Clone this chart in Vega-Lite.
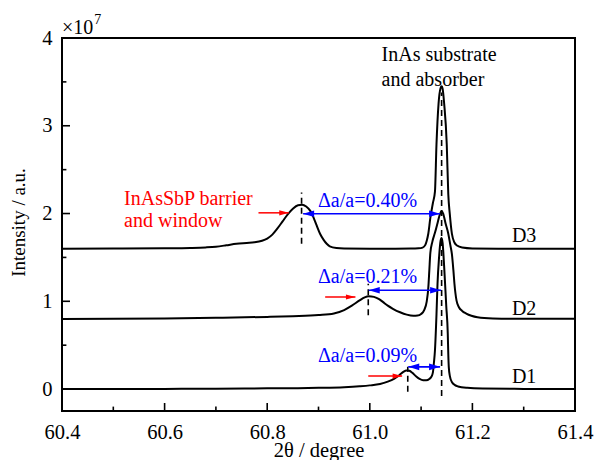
{
  "$schema": "https://vega.github.io/schema/vega-lite/v6.json",
  "width": 513,
  "height": 373,
  "autosize": "none",
  "padding": {"left": 62, "top": 38, "right": 20, "bottom": 49},
  "config": {
    "font": "Liberation Serif",
    "view": {"stroke": "black", "strokeWidth": 2},
    "axis": {"grid": false, "domain": false, "ticks": false, "labelColor": "black", "labelFontSize": 20.5, "titleColor": "black", "titleFontSize": 20.5, "titleFontWeight": "normal", "labelFont": "Liberation Serif", "titleFont": "Liberation Serif"}
  },
  "datasets": {
    "curves": [
      {"sample": "D1", "two_theta": 60.40, "intensity": 0.000},
      {"sample": "D1", "two_theta": 60.50, "intensity": 0.000},
      {"sample": "D1", "two_theta": 60.60, "intensity": 0.002},
      {"sample": "D1", "two_theta": 60.70, "intensity": 0.004},
      {"sample": "D1", "two_theta": 60.80, "intensity": 0.008},
      {"sample": "D1", "two_theta": 60.86, "intensity": 0.010},
      {"sample": "D1", "two_theta": 60.90, "intensity": 0.014},
      {"sample": "D1", "two_theta": 60.95, "intensity": 0.022},
      {"sample": "D1", "two_theta": 60.98, "intensity": 0.032},
      {"sample": "D1", "two_theta": 61.00, "intensity": 0.042},
      {"sample": "D1", "two_theta": 61.02, "intensity": 0.058},
      {"sample": "D1", "two_theta": 61.035, "intensity": 0.085},
      {"sample": "D1", "two_theta": 61.048, "intensity": 0.120},
      {"sample": "D1", "two_theta": 61.058, "intensity": 0.160},
      {"sample": "D1", "two_theta": 61.066, "intensity": 0.198},
      {"sample": "D1", "two_theta": 61.071, "intensity": 0.212},
      {"sample": "D1", "two_theta": 61.077, "intensity": 0.208},
      {"sample": "D1", "two_theta": 61.083, "intensity": 0.185},
      {"sample": "D1", "two_theta": 61.090, "intensity": 0.145},
      {"sample": "D1", "two_theta": 61.097, "intensity": 0.115},
      {"sample": "D1", "two_theta": 61.104, "intensity": 0.100},
      {"sample": "D1", "two_theta": 61.110, "intensity": 0.100},
      {"sample": "D1", "two_theta": 61.116, "intensity": 0.115},
      {"sample": "D1", "two_theta": 61.120, "intensity": 0.140},
      {"sample": "D1", "two_theta": 61.123, "intensity": 0.190},
      {"sample": "D1", "two_theta": 61.125, "intensity": 0.300},
      {"sample": "D1", "two_theta": 61.127, "intensity": 0.440},
      {"sample": "D1", "two_theta": 61.130, "intensity": 0.850},
      {"sample": "D1", "two_theta": 61.132, "intensity": 1.200},
      {"sample": "D1", "two_theta": 61.135, "intensity": 1.500},
      {"sample": "D1", "two_theta": 61.138, "intensity": 1.690},
      {"sample": "D1", "two_theta": 61.140, "intensity": 1.720},
      {"sample": "D1", "two_theta": 61.142, "intensity": 1.660},
      {"sample": "D1", "two_theta": 61.145, "intensity": 1.390},
      {"sample": "D1", "two_theta": 61.149, "intensity": 0.950},
      {"sample": "D1", "two_theta": 61.152, "intensity": 0.630},
      {"sample": "D1", "two_theta": 61.153, "intensity": 0.400},
      {"sample": "D1", "two_theta": 61.154, "intensity": 0.250},
      {"sample": "D1", "two_theta": 61.156, "intensity": 0.150},
      {"sample": "D1", "two_theta": 61.160, "intensity": 0.080},
      {"sample": "D1", "two_theta": 61.166, "intensity": 0.045},
      {"sample": "D1", "two_theta": 61.172, "intensity": 0.030},
      {"sample": "D1", "two_theta": 61.19, "intensity": 0.014},
      {"sample": "D1", "two_theta": 61.22, "intensity": 0.006},
      {"sample": "D1", "two_theta": 61.30, "intensity": 0.002},
      {"sample": "D1", "two_theta": 61.40, "intensity": 0.000},

      {"sample": "D2", "two_theta": 60.40, "intensity": 0.797},
      {"sample": "D2", "two_theta": 60.50, "intensity": 0.800},
      {"sample": "D2", "two_theta": 60.60, "intensity": 0.805},
      {"sample": "D2", "two_theta": 60.70, "intensity": 0.812},
      {"sample": "D2", "two_theta": 60.80, "intensity": 0.822},
      {"sample": "D2", "two_theta": 60.85, "intensity": 0.830},
      {"sample": "D2", "two_theta": 60.90, "intensity": 0.843},
      {"sample": "D2", "two_theta": 60.93, "intensity": 0.862},
      {"sample": "D2", "two_theta": 60.95, "intensity": 0.900},
      {"sample": "D2", "two_theta": 60.965, "intensity": 0.950},
      {"sample": "D2", "two_theta": 60.98, "intensity": 1.010},
      {"sample": "D2", "two_theta": 60.99, "intensity": 1.045},
      {"sample": "D2", "two_theta": 60.998, "intensity": 1.058},
      {"sample": "D2", "two_theta": 61.008, "intensity": 1.050},
      {"sample": "D2", "two_theta": 61.018, "intensity": 1.025},
      {"sample": "D2", "two_theta": 61.026, "intensity": 0.990},
      {"sample": "D2", "two_theta": 61.035, "intensity": 0.950},
      {"sample": "D2", "two_theta": 61.045, "intensity": 0.915},
      {"sample": "D2", "two_theta": 61.059, "intensity": 0.875},
      {"sample": "D2", "two_theta": 61.072, "intensity": 0.848},
      {"sample": "D2", "two_theta": 61.085, "intensity": 0.835},
      {"sample": "D2", "two_theta": 61.093, "intensity": 0.837},
      {"sample": "D2", "two_theta": 61.100, "intensity": 0.855},
      {"sample": "D2", "two_theta": 61.106, "intensity": 0.900},
      {"sample": "D2", "two_theta": 61.111, "intensity": 1.000},
      {"sample": "D2", "two_theta": 61.114, "intensity": 1.150},
      {"sample": "D2", "two_theta": 61.116, "intensity": 1.350},
      {"sample": "D2", "two_theta": 61.118, "intensity": 1.550},
      {"sample": "D2", "two_theta": 61.122, "intensity": 1.680},
      {"sample": "D2", "two_theta": 61.127, "intensity": 1.780},
      {"sample": "D2", "two_theta": 61.132, "intensity": 1.890},
      {"sample": "D2", "two_theta": 61.136, "intensity": 1.980},
      {"sample": "D2", "two_theta": 61.140, "intensity": 2.030},
      {"sample": "D2", "two_theta": 61.143, "intensity": 2.000},
      {"sample": "D2", "two_theta": 61.148, "intensity": 1.880},
      {"sample": "D2", "two_theta": 61.153, "intensity": 1.770},
      {"sample": "D2", "two_theta": 61.157, "intensity": 1.640},
      {"sample": "D2", "two_theta": 61.160, "intensity": 1.540},
      {"sample": "D2", "two_theta": 61.163, "intensity": 1.350},
      {"sample": "D2", "two_theta": 61.165, "intensity": 1.200},
      {"sample": "D2", "two_theta": 61.169, "intensity": 1.010},
      {"sample": "D2", "two_theta": 61.174, "intensity": 0.930},
      {"sample": "D2", "two_theta": 61.180, "intensity": 0.890},
      {"sample": "D2", "two_theta": 61.188, "intensity": 0.860},
      {"sample": "D2", "two_theta": 61.198, "intensity": 0.835},
      {"sample": "D2", "two_theta": 61.210, "intensity": 0.818},
      {"sample": "D2", "two_theta": 61.240, "intensity": 0.805},
      {"sample": "D2", "two_theta": 61.300, "intensity": 0.800},
      {"sample": "D2", "two_theta": 61.400, "intensity": 0.800},

      {"sample": "D3", "two_theta": 60.40, "intensity": 1.600},
      {"sample": "D3", "two_theta": 60.50, "intensity": 1.601},
      {"sample": "D3", "two_theta": 60.60, "intensity": 1.604},
      {"sample": "D3", "two_theta": 60.65, "intensity": 1.608},
      {"sample": "D3", "two_theta": 60.68, "intensity": 1.614},
      {"sample": "D3", "two_theta": 60.70, "intensity": 1.622},
      {"sample": "D3", "two_theta": 60.72, "intensity": 1.638},
      {"sample": "D3", "two_theta": 60.74, "intensity": 1.656},
      {"sample": "D3", "two_theta": 60.76, "intensity": 1.665},
      {"sample": "D3", "two_theta": 60.775, "intensity": 1.672},
      {"sample": "D3", "two_theta": 60.79, "intensity": 1.690},
      {"sample": "D3", "two_theta": 60.80, "intensity": 1.715},
      {"sample": "D3", "two_theta": 60.81, "intensity": 1.760},
      {"sample": "D3", "two_theta": 60.82, "intensity": 1.830},
      {"sample": "D3", "two_theta": 60.83, "intensity": 1.910},
      {"sample": "D3", "two_theta": 60.84, "intensity": 1.990},
      {"sample": "D3", "two_theta": 60.85, "intensity": 2.055},
      {"sample": "D3", "two_theta": 60.86, "intensity": 2.095},
      {"sample": "D3", "two_theta": 60.868, "intensity": 2.100},
      {"sample": "D3", "two_theta": 60.876, "intensity": 2.080},
      {"sample": "D3", "two_theta": 60.884, "intensity": 2.030},
      {"sample": "D3", "two_theta": 60.890, "intensity": 1.960},
      {"sample": "D3", "two_theta": 60.896, "intensity": 1.870},
      {"sample": "D3", "two_theta": 60.903, "intensity": 1.770},
      {"sample": "D3", "two_theta": 60.910, "intensity": 1.700},
      {"sample": "D3", "two_theta": 60.916, "intensity": 1.655},
      {"sample": "D3", "two_theta": 60.922, "intensity": 1.625},
      {"sample": "D3", "two_theta": 60.935, "intensity": 1.607},
      {"sample": "D3", "two_theta": 60.95, "intensity": 1.602},
      {"sample": "D3", "two_theta": 61.00, "intensity": 1.600},
      {"sample": "D3", "two_theta": 61.05, "intensity": 1.600},
      {"sample": "D3", "two_theta": 61.08, "intensity": 1.601},
      {"sample": "D3", "two_theta": 61.095, "intensity": 1.604},
      {"sample": "D3", "two_theta": 61.103, "intensity": 1.612},
      {"sample": "D3", "two_theta": 61.108, "intensity": 1.640},
      {"sample": "D3", "two_theta": 61.111, "intensity": 1.690},
      {"sample": "D3", "two_theta": 61.114, "intensity": 1.770},
      {"sample": "D3", "two_theta": 61.118, "intensity": 1.950},
      {"sample": "D3", "two_theta": 61.123, "intensity": 2.120},
      {"sample": "D3", "two_theta": 61.127, "intensity": 2.250},
      {"sample": "D3", "two_theta": 61.130, "intensity": 2.790},
      {"sample": "D3", "two_theta": 61.134, "intensity": 3.250},
      {"sample": "D3", "two_theta": 61.138, "intensity": 3.430},
      {"sample": "D3", "two_theta": 61.140, "intensity": 3.450},
      {"sample": "D3", "two_theta": 61.142, "intensity": 3.420},
      {"sample": "D3", "two_theta": 61.145, "intensity": 3.250},
      {"sample": "D3", "two_theta": 61.150, "intensity": 2.790},
      {"sample": "D3", "two_theta": 61.153, "intensity": 2.220},
      {"sample": "D3", "two_theta": 61.156, "intensity": 1.990},
      {"sample": "D3", "two_theta": 61.160, "intensity": 1.770},
      {"sample": "D3", "two_theta": 61.165, "intensity": 1.670},
      {"sample": "D3", "two_theta": 61.170, "intensity": 1.635},
      {"sample": "D3", "two_theta": 61.180, "intensity": 1.612},
      {"sample": "D3", "two_theta": 61.200, "intensity": 1.602},
      {"sample": "D3", "two_theta": 61.250, "intensity": 1.600},
      {"sample": "D3", "two_theta": 61.400, "intensity": 1.600}
    ],
    "x_ticks": [
      {"value": 60.4, "kind": "major"}, {"value": 60.5, "kind": "minor"},
      {"value": 60.6, "kind": "major"}, {"value": 60.7, "kind": "minor"},
      {"value": 60.8, "kind": "major"}, {"value": 60.9, "kind": "minor"},
      {"value": 61.0, "kind": "major"}, {"value": 61.1, "kind": "minor"},
      {"value": 61.2, "kind": "major"}, {"value": 61.3, "kind": "minor"},
      {"value": 61.4, "kind": "major"}
    ],
    "y_ticks": [
      {"value": 0, "kind": "major"}, {"value": 0.5, "kind": "minor"},
      {"value": 1, "kind": "major"}, {"value": 1.5, "kind": "minor"},
      {"value": 2, "kind": "major"}, {"value": 2.5, "kind": "minor"},
      {"value": 3, "kind": "major"}, {"value": 3.5, "kind": "minor"},
      {"value": 4, "kind": "major"}
    ],
    "markers": [
      {"position": 60.867, "low": 1.655, "high": 2.24},
      {"position": 60.997, "low": 0.84, "high": 1.20},
      {"position": 61.074, "low": -0.03, "high": 0.255},
      {"position": 61.140, "low": -0.08, "high": 3.38}
    ],
    "arrows": [
      {"kind": "delta", "start": 60.870, "end": 61.137, "level": 1.997},
      {"kind": "delta", "start": 60.998, "end": 61.139, "level": 1.125},
      {"kind": "delta", "start": 61.075, "end": 61.137, "level": 0.253},
      {"kind": "pointer", "start": 60.783, "end": 60.842, "level": 2.008},
      {"kind": "pointer", "start": 60.913, "end": 60.972, "level": 1.049},
      {"kind": "pointer", "start": 60.997, "end": 61.063, "level": 0.148}
    ],
    "notes": [
      {"group": "layer", "text": "InAsSbP barrier", "x": 60.521, "y": 2.165},
      {"group": "layer", "text": "and window", "x": 60.521, "y": 1.912},
      {"group": "substrate", "text": "InAs substrate", "x": 61.023, "y": 3.81},
      {"group": "substrate", "text": "and absorber", "x": 61.023, "y": 3.52},
      {"group": "delta", "text": "Δa/a=0.40%", "x": 60.899, "y": 2.14},
      {"group": "delta", "text": "Δa/a=0.21%", "x": 60.899, "y": 1.28},
      {"group": "delta", "text": "Δa/a=0.09%", "x": 60.899, "y": 0.375},
      {"group": "sample", "text": "D3", "x": 61.277, "y": 1.74},
      {"group": "sample", "text": "D2", "x": 61.277, "y": 0.91},
      {"group": "sample", "text": "D1", "x": 61.277, "y": 0.14},
      {"group": "multiplier", "text": "×10", "x": 60.4, "y": 4.11}
    ],
    "exponent": [
      {"text": "7", "x": 60.463, "y": 4.2}
    ]
  },
  "layer": [
    {
      "data": {"name": "curves"},
      "mark": {"type": "line", "color": "black", "strokeWidth": 2, "interpolate": "monotone"},
      "encoding": {
        "x": {
          "field": "two_theta", "type": "quantitative",
          "scale": {"domain": [60.4, 61.4], "nice": false, "zero": false},
          "axis": {
            "title": "2θ / degree",
            "values": [60.4, 60.6, 60.8, 61.0, 61.2, 61.4],
            "format": ".1f",
            "labelPadding": 11,
            "labelFlush": false,
            "labelOverlap": false,
            "titleY": 39,
            "titleBaseline": "middle"
          }
        },
        "y": {
          "field": "intensity", "type": "quantitative",
          "scale": {"domain": [-0.25, 4], "nice": false, "zero": false},
          "axis": {
            "title": "Intensity / a.u.",
            "values": [0, 1, 2, 3, 4],
            "format": "d",
            "labelPadding": 10,
            "labelFlush": false,
            "labelOverlap": false,
            "titleX": -44,
            "titleY": 184,
            "titleAngle": -90,
            "titleFontSize": 19,
            "titleBaseline": "middle"
          }
        },
        "detail": {"field": "sample"}
      }
    },
    {
      "data": {"name": "x_ticks"},
      "transform": [{"filter": "datum.kind == 'major'"}],
      "mark": {"type": "point", "shape": "M 0 0 L 0 -2", "size": 64, "filled": false, "opacity": 1, "color": "black", "strokeWidth": 1.6},
      "encoding": {
        "x": {"field": "value", "type": "quantitative"},
        "y": {"datum": -0.25}
      }
    },
    {
      "data": {"name": "x_ticks"},
      "transform": [{"filter": "datum.kind == 'minor'"}],
      "mark": {"type": "point", "shape": "M 0 0 L 0 -1.1", "size": 64, "filled": false, "opacity": 1, "color": "black", "strokeWidth": 1.6},
      "encoding": {
        "x": {"field": "value", "type": "quantitative"},
        "y": {"datum": -0.25}
      }
    },
    {
      "data": {"name": "y_ticks"},
      "transform": [{"filter": "datum.kind == 'major'"}],
      "mark": {"type": "point", "shape": "M 0 0 L 2 0", "size": 64, "filled": false, "opacity": 1, "color": "black", "strokeWidth": 1.6},
      "encoding": {
        "y": {"field": "value", "type": "quantitative"},
        "x": {"datum": 60.4}
      }
    },
    {
      "data": {"name": "y_ticks"},
      "transform": [{"filter": "datum.kind == 'minor'"}],
      "mark": {"type": "point", "shape": "M 0 0 L 1.1 0", "size": 64, "filled": false, "opacity": 1, "color": "black", "strokeWidth": 1.6},
      "encoding": {
        "y": {"field": "value", "type": "quantitative"},
        "x": {"datum": 60.4}
      }
    },
    {
      "data": {"name": "markers"},
      "mark": {"type": "rule", "color": "black", "strokeWidth": 1.6, "strokeDash": [6, 4]},
      "encoding": {
        "x": {"field": "position", "type": "quantitative"},
        "y": {"field": "low", "type": "quantitative"},
        "y2": {"field": "high"}
      }
    },
    {
      "data": {"name": "arrows"},
      "transform": [{"filter": "datum.kind == 'delta'"}],
      "mark": {"type": "rule", "color": "#0000ff", "strokeWidth": 1.6},
      "encoding": {
        "x": {"field": "start", "type": "quantitative"},
        "x2": {"field": "end"},
        "y": {"field": "level", "type": "quantitative"}
      }
    },
    {
      "data": {"name": "arrows"},
      "transform": [{"filter": "datum.kind == 'delta'"}],
      "mark": {"type": "point", "shape": "M 0 0 L 2 -0.6 L 2 0.6 Z", "size": 121, "filled": true, "opacity": 1, "color": "#0000ff", "strokeWidth": 0},
      "encoding": {
        "x": {"field": "start", "type": "quantitative"},
        "y": {"field": "level", "type": "quantitative"}
      }
    },
    {
      "data": {"name": "arrows"},
      "transform": [{"filter": "datum.kind == 'delta'"}],
      "mark": {"type": "point", "shape": "M 0 0 L -2 -0.6 L -2 0.6 Z", "size": 121, "filled": true, "opacity": 1, "color": "#0000ff", "strokeWidth": 0},
      "encoding": {
        "x": {"field": "end", "type": "quantitative"},
        "y": {"field": "level", "type": "quantitative"}
      }
    },
    {
      "data": {"name": "arrows"},
      "transform": [{"filter": "datum.kind == 'pointer'"}],
      "mark": {"type": "rule", "color": "#ff0000", "strokeWidth": 1.5},
      "encoding": {
        "x": {"field": "start", "type": "quantitative"},
        "x2": {"field": "end"},
        "y": {"field": "level", "type": "quantitative"}
      }
    },
    {
      "data": {"name": "arrows"},
      "transform": [{"filter": "datum.kind == 'pointer'"}],
      "mark": {"type": "point", "shape": "M 0 0 L -2 -0.55 L -2 0.55 Z", "size": 90, "filled": true, "opacity": 1, "color": "#ff0000", "strokeWidth": 0},
      "encoding": {
        "x": {"field": "end", "type": "quantitative"},
        "y": {"field": "level", "type": "quantitative"}
      }
    },
    {
      "data": {"name": "notes"},
      "mark": {"type": "text", "align": "left", "baseline": "middle", "fontSize": 20, "font": "Liberation Serif"},
      "encoding": {
        "x": {"field": "x", "type": "quantitative"},
        "y": {"field": "y", "type": "quantitative"},
        "text": {"field": "text"},
        "color": {
          "field": "group", "type": "nominal", "legend": null,
          "scale": {"domain": ["layer", "substrate", "delta", "sample", "multiplier"], "range": ["#ff0000", "black", "#0000ff", "black", "black"]}
        }
      }
    },
    {
      "data": {"name": "exponent"},
      "mark": {"type": "text", "align": "left", "baseline": "middle", "fontSize": 14, "font": "Liberation Serif", "color": "black"},
      "encoding": {
        "x": {"field": "x", "type": "quantitative"},
        "y": {"field": "y", "type": "quantitative"},
        "text": {"field": "text"}
      }
    }
  ]
}
